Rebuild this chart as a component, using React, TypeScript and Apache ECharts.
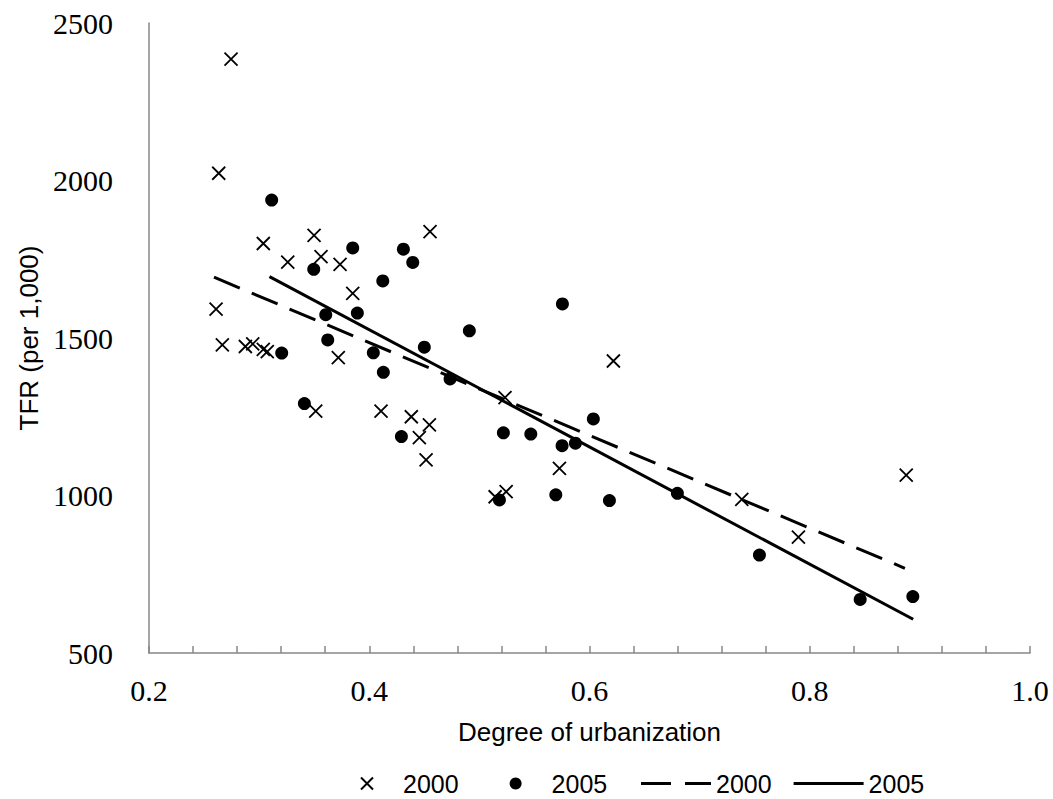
import React, { useEffect, useRef } from "react";
import * as echarts from "echarts";

// Degree of urbanization (x) and TFR per 1,000 (y)
const urban2000 = [
  0.2745, 0.2633, 0.3038, 0.3499, 0.4552, 0.326, 0.3562, 0.3735, 0.385, 0.2609,
  0.2666, 0.2875, 0.2942, 0.3038, 0.3074, 0.3719, 0.3514, 0.4107, 0.4382, 0.4546,
  0.4455, 0.4516, 0.6217, 0.5233, 0.5727, 0.5143, 0.5243, 0.7383, 0.7897, 0.8876,
];
const tfr2000 = [
  2385, 2023, 1800, 1826, 1838, 1741, 1758, 1734, 1642, 1592,
  1478, 1473, 1481, 1464, 1457, 1438, 1268, 1268, 1250, 1224,
  1184, 1113, 1427, 1311, 1086, 996, 1012, 988, 868, 1065,
];
const urban2005 = [
  0.3114, 0.385, 0.431, 0.3496, 0.4395, 0.4123, 0.3605, 0.3892, 0.4909, 0.5754,
  0.3205, 0.3623, 0.4037, 0.45, 0.4128, 0.4734, 0.3411, 0.4292, 0.6035, 0.5218,
  0.5467, 0.5751, 0.5872, 0.5182, 0.5694, 0.6181, 0.6798, 0.7543, 0.8458, 0.8936,
];
const tfr2005 = [
  1938, 1786, 1782, 1718, 1740, 1681, 1574, 1579, 1523, 1608,
  1452, 1494, 1453, 1471, 1391, 1370, 1292, 1187, 1243, 1199,
  1195, 1158, 1166, 986, 1002, 984, 1007, 811, 670, 679,
];
// Trend line end points
const trend2000X = [0.259, 0.8864];
const trend2000Y = [1693, 769];
const trend2005X = [0.3094, 0.8939];
const trend2005Y = [1695, 607];

const yTicks = [500, 1000, 1500, 2000, 2500];
const xLabelTicks = [0.2, 0.4, 0.6, 0.8, 1.0];

const zip = (xs: number[], ys: number[]) => xs.map((x, i) => [x, ys[i]]);

const CROSS = "path://M0,0L12,12M12,0L0,12";
const DASH = [28, 13];
const DASH_ICON = "path://M0,0H30V3H0Z M44,0H70V3H44Z";
const SOLID_ICON = "path://M0,0H70V3H0Z";

export default function App() {
  const ref = useRef<HTMLDivElement>(null);
  useEffect(() => {
    if (!ref.current) return;
    const chart = echarts.init(ref.current, undefined, { renderer: "svg" });
    const axisColor = "#878787";
    const legendText = { fontFamily: "Liberation Sans", fontSize: 25, color: "#000" };
    chart.setOption({
      animation: false,
      backgroundColor: "#ffffff",
      grid: { left: 149, right: 23, top: 23, bottom: 146, containLabel: false },
      xAxis: {
        type: "value",
        min: 0.2,
        max: 1.0,
        interval: 0.04,
        name: "Degree of urbanization",
        nameLocation: "middle",
        nameGap: 66,
        nameTextStyle: { fontFamily: "Liberation Sans", fontSize: 26, color: "#000" },
        axisLine: { show: true, lineStyle: { color: axisColor, width: 1.5 } },
        axisTick: { show: true, inside: true, length: 7, lineStyle: { color: axisColor, width: 1.5 } },
        splitLine: { show: false },
        axisLabel: {
          margin: 22,
          fontFamily: "Liberation Serif",
          fontSize: 30,
          color: "#000",
          formatter: (v: number) => {
            const hit = xLabelTicks.find((t) => Math.abs(t - v) < 1e-6);
            return hit !== undefined ? hit.toFixed(1) : "";
          },
        },
      },
      yAxis: {
        type: "value",
        min: yTicks[0],
        max: yTicks[yTicks.length - 1],
        interval: 500,
        name: "TFR (per 1,000)",
        nameLocation: "middle",
        nameGap: 106,
        nameTextStyle: { fontFamily: "Liberation Sans", fontSize: 26, color: "#000" },
        axisLine: { show: true, lineStyle: { color: axisColor, width: 1.5 } },
        axisTick: { show: false },
        splitLine: { show: false },
        axisLabel: {
          margin: 36,
          fontFamily: "Liberation Serif",
          fontSize: 30,
          color: "#000",
          formatter: (v: number) => String(Math.round(v)),
        },
      },
      legend: [
        {
          left: 355,
          top: 766,
          itemWidth: 14,
          itemHeight: 12,
          itemGap: 51,
          formatter: (name: string) => name.split(" ")[0],
          textStyle: { ...legendText, padding: [0, 0, 0, 24] },
          data: ["2000", "2005"],
        },
        {
          left: 636,
          top: 766,
          itemWidth: 70,
          itemHeight: 3,
          itemGap: 22,
          formatter: (name: string) => name.split(" ")[0],
          textStyle: legendText,
          data: [
            { name: "2000 trend", icon: DASH_ICON, itemStyle: { color: "#000" } },
            { name: "2005 trend", icon: SOLID_ICON, itemStyle: { color: "#000" } },
          ],
        },
      ],
      series: [
        {
          name: "2000",
          type: "scatter",
          symbol: CROSS,
          symbolSize: 13,
          itemStyle: { color: "transparent", borderColor: "#000", borderWidth: 1.8, opacity: 1 },
          data: zip(urban2000, tfr2000),
        },
        {
          name: "2005",
          type: "scatter",
          symbol: "circle",
          symbolSize: 13,
          itemStyle: { color: "#000", opacity: 1 },
          data: zip(urban2005, tfr2005),
        },
        {
          name: "2000 trend",
          type: "line",
          symbol: "none",
          lineStyle: { color: "#000", width: 3, type: DASH },
          itemStyle: { color: "#000" },
          data: zip(trend2000X, trend2000Y),
        },
        {
          name: "2005 trend",
          type: "line",
          symbol: "none",
          lineStyle: { color: "#000", width: 3, type: "solid" },
          itemStyle: { color: "#000" },
          data: zip(trend2005X, trend2005Y),
        },
      ],
    });
    return () => chart.dispose();
  }, []);
  return (
    <div
      ref={ref}
      style={{ position: "fixed", left: 0, top: 0, width: 1053, height: 799, background: "#fff" }}
    />
  );
}
